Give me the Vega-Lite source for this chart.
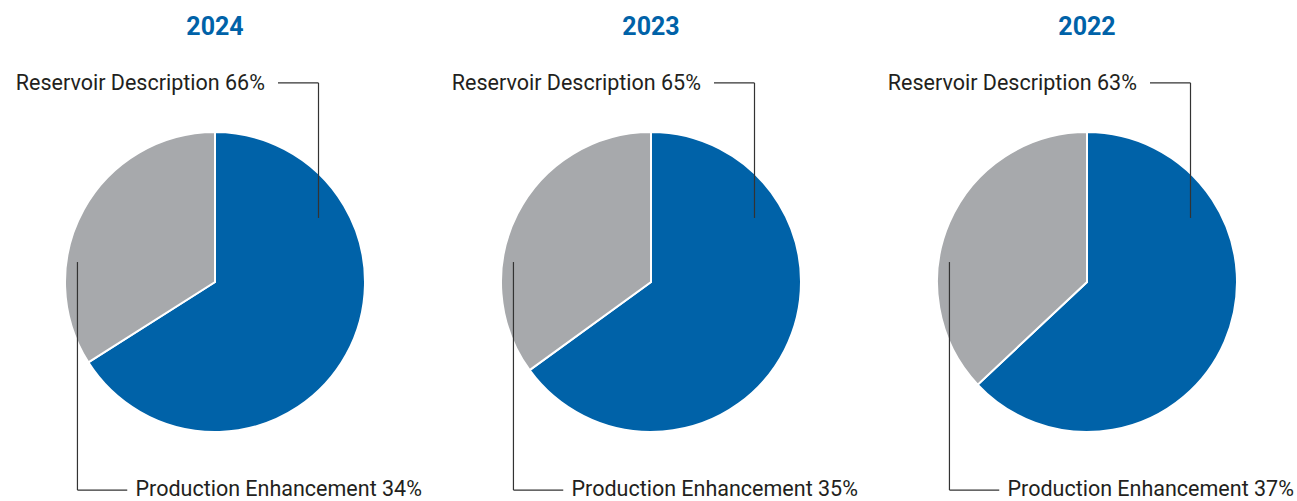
{
  "$schema": "https://vega.github.io/schema/vega-lite/v6.json",
  "padding": 0,
  "bounds": "flush",
  "background": "white",
  "data": {"values": [
    {"year": "2024", "category": "Reservoir Description", "pct": 66},
    {"year": "2024", "category": "Production Enhancement", "pct": 34},
    {"year": "2023", "category": "Reservoir Description", "pct": 65},
    {"year": "2023", "category": "Production Enhancement", "pct": 35},
    {"year": "2022", "category": "Reservoir Description", "pct": 63},
    {"year": "2022", "category": "Production Enhancement", "pct": 37}
  ]},
  "transform": [{"calculate": "datum.category + ' ' + datum.pct + '%'", "as": "label"}],
  "facet": {"column": {"field": "year", "type": "ordinal", "sort": ["2024", "2023", "2022"], "header": null}},
  "spacing": 6,
  "spec": {
    "width": 430,
    "height": 501,
    "layer": [
      {
        "mark": {"type": "arc", "outerRadius": 150, "stroke": "white", "strokeWidth": 2},
        "encoding": {
          "x": {"datum": 0, "type": "quantitative", "scale": {"domain": [-1.4333, 1.4333], "nice": false, "zero": false}, "axis": null},
          "y": {"datum": 0, "type": "quantitative", "scale": {"domain": [-1.46, 1.88], "nice": false, "zero": false}, "axis": null},
          "theta": {"field": "pct", "type": "quantitative", "stack": true},
          "color": {"field": "category", "type": "nominal", "scale": {"domain": ["Reservoir Description", "Production Enhancement"], "range": ["#0062A8", "#A7A9AC"]}, "legend": null},
          "order": {"field": "category", "sort": "descending"}
        }
      },
      {
        "transform": [{"filter": "datum.category == 'Reservoir Description'"}],
        "mark": {"type": "text", "font": "Roboto", "fontWeight": "bold", "fontSize": 25, "color": "#0062A8", "baseline": "middle", "align": "center"},
        "encoding": {
          "x": {"datum": 0, "type": "quantitative", "scale": {"domain": [-1.4333, 1.4333], "nice": false, "zero": false}, "axis": null},
          "y": {"datum": 1.7, "type": "quantitative", "scale": {"domain": [-1.46, 1.88], "nice": false, "zero": false}, "axis": null},
          "text": {"field": "year"}
        }
      },
      {
        "transform": [{"filter": "datum.category == 'Reservoir Description'"}],
        "mark": {"type": "text", "font": "Roboto", "fontSize": 21.5, "color": "#231F20", "baseline": "middle", "align": "right"},
        "encoding": {
          "x": {"datum": 0.333, "type": "quantitative", "scale": {"domain": [-1.4333, 1.4333], "nice": false, "zero": false}, "axis": null},
          "y": {"datum": 1.32, "type": "quantitative", "scale": {"domain": [-1.46, 1.88], "nice": false, "zero": false}, "axis": null},
          "text": {"field": "label"}
        }
      },
      {
        "transform": [{"filter": "datum.category == 'Production Enhancement'"}],
        "mark": {"type": "text", "font": "Roboto", "fontSize": 21.5, "color": "#231F20", "baseline": "middle", "align": "left"},
        "encoding": {
          "x": {"datum": -0.53, "type": "quantitative", "scale": {"domain": [-1.4333, 1.4333], "nice": false, "zero": false}, "axis": null},
          "y": {"datum": -1.387, "type": "quantitative", "scale": {"domain": [-1.46, 1.88], "nice": false, "zero": false}, "axis": null},
          "text": {"field": "label"}
        }
      },
      {
        "transform": [{"filter": "datum.category == 'Reservoir Description'"}],
        "mark": {"type": "rule", "color": "#333333", "strokeWidth": 1.2},
        "encoding": {
          "x": {"datum": 0.42, "type": "quantitative", "scale": {"domain": [-1.4333, 1.4333], "nice": false, "zero": false}, "axis": null},
          "x2": {"datum": 0.69},
          "y": {"datum": 1.327, "type": "quantitative", "scale": {"domain": [-1.46, 1.88], "nice": false, "zero": false}, "axis": null}
        }
      },
      {
        "transform": [{"filter": "datum.category == 'Reservoir Description'"}],
        "mark": {"type": "rule", "color": "#333333", "strokeWidth": 1.2},
        "encoding": {
          "x": {"datum": 0.69, "type": "quantitative", "scale": {"domain": [-1.4333, 1.4333], "nice": false, "zero": false}, "axis": null},
          "y": {"datum": 1.327, "type": "quantitative", "scale": {"domain": [-1.46, 1.88], "nice": false, "zero": false}, "axis": null},
          "y2": {"datum": 0.427}
        }
      },
      {
        "transform": [{"filter": "datum.category == 'Production Enhancement'"}],
        "mark": {"type": "rule", "color": "#333333", "strokeWidth": 1.2},
        "encoding": {
          "x": {"datum": -0.917, "type": "quantitative", "scale": {"domain": [-1.4333, 1.4333], "nice": false, "zero": false}, "axis": null},
          "y": {"datum": 0.133, "type": "quantitative", "scale": {"domain": [-1.46, 1.88], "nice": false, "zero": false}, "axis": null},
          "y2": {"datum": -1.387}
        }
      },
      {
        "transform": [{"filter": "datum.category == 'Production Enhancement'"}],
        "mark": {"type": "rule", "color": "#333333", "strokeWidth": 1.2},
        "encoding": {
          "x": {"datum": -0.917, "type": "quantitative", "scale": {"domain": [-1.4333, 1.4333], "nice": false, "zero": false}, "axis": null},
          "x2": {"datum": -0.585},
          "y": {"datum": -1.387, "type": "quantitative", "scale": {"domain": [-1.46, 1.88], "nice": false, "zero": false}, "axis": null}
        }
      }
    ]
  },
  "config": {"view": {"stroke": null}}
}
